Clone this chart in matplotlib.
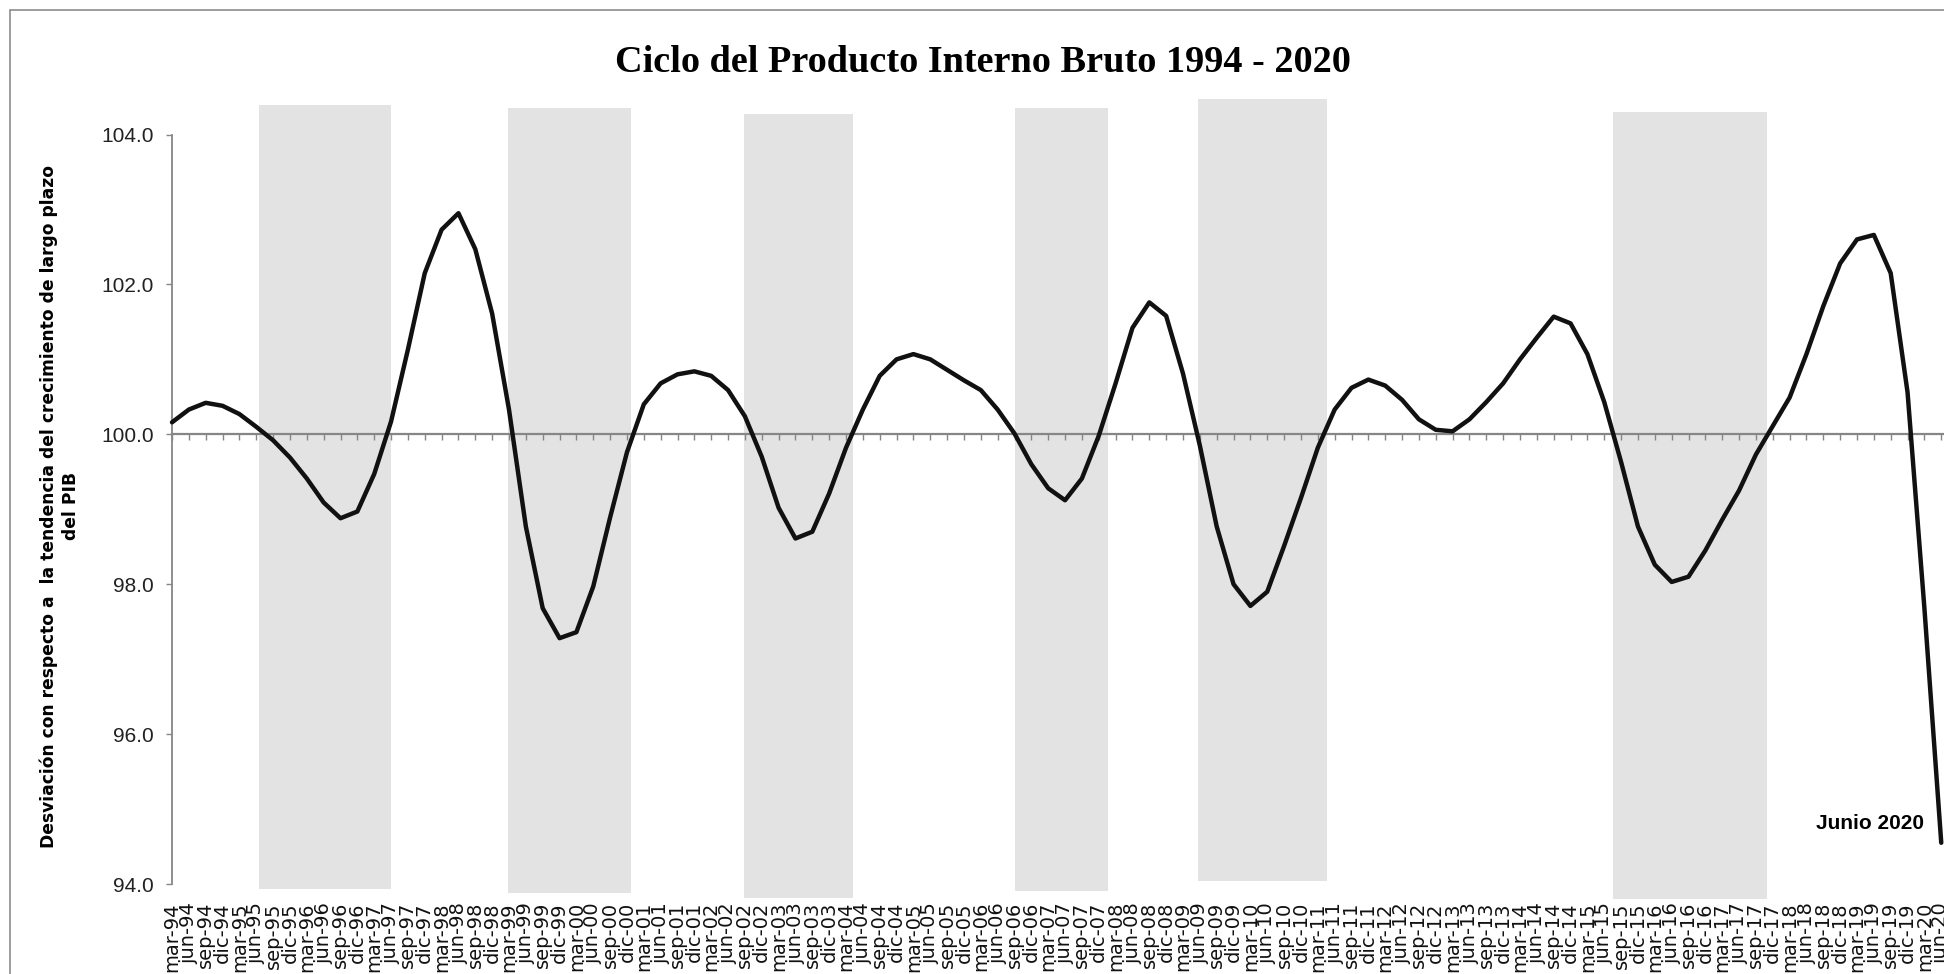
import matplotlib
matplotlib.use("Agg")
import matplotlib.pyplot as plt
from matplotlib.patches import Rectangle

# quarterly labels mar-94 .. jun-20
months = ["mar", "jun", "sep", "dic"]
labels = [f"{m}-{y % 100:02d}" for y in range(1994, 2021) for m in months][:106]

ciclo = [
    100.16, 100.33, 100.42, 100.38, 100.27, 100.10, 99.92, 99.69, 99.41, 99.09,
    98.88, 98.97, 99.47, 100.17, 101.13, 102.15, 102.73, 102.95, 102.47, 101.61,
    100.33, 98.77, 97.68, 97.28, 97.36, 97.97, 98.89, 99.76, 100.40, 100.68,
    100.80, 100.84, 100.78, 100.59, 100.24, 99.70, 99.02, 98.61, 98.70, 99.21,
    99.82, 100.33, 100.78, 101.00, 101.07, 101.00, 100.86, 100.72, 100.59, 100.33,
    100.01, 99.60, 99.28, 99.12, 99.41, 99.98, 100.68, 101.42, 101.76, 101.58,
    100.81, 99.85, 98.77, 98.00, 97.71, 97.90, 98.51, 99.15, 99.82, 100.33,
    100.62, 100.73, 100.65, 100.46, 100.20, 100.06, 100.04, 100.20, 100.43, 100.68,
    101.00, 101.29, 101.57, 101.48, 101.07, 100.43, 99.63, 98.77, 98.26, 98.03,
    98.10, 98.45, 98.86, 99.25, 99.73, 100.11, 100.49, 101.07, 101.71, 102.28,
    102.60, 102.66, 102.15, 100.56, 97.68, 94.55,
]

# shaded periods (in quarter index units) and their vertical extent
shade_start = [5.17, 19.92, 33.96, 50.03, 60.90, 85.54]
shade_end = [13.0, 27.22, 40.40, 55.53, 68.52, 94.68]
shade_top = [104.40, 104.35, 104.27, 104.36, 104.48, 104.30]
shade_bottom = [93.93, 93.88, 93.81, 93.91, 94.04, 93.80]

yticks = [94, 96, 98, 100, 102, 104]

W, H = 1944, 974
fig = plt.figure(figsize=(W / 100, H / 100), dpi=100)
ax = fig.add_axes([172 / W, (H - 884) / H, (W - 172) / W, (884 - 134.5) / H])

gray = "#868686"
x = list(range(len(ciclo)))

ax.bar(shade_start, [t - b for t, b in zip(shade_top, shade_bottom)],
       width=[e - s for s, e in zip(shade_start, shade_end)],
       bottom=shade_bottom, align="edge", color="#e3e3e3", linewidth=0,
       clip_on=False, zorder=1)

ax.plot(x, ciclo, color="#111111", lw=3.2, solid_joinstyle="round",
        solid_capstyle="round", clip_on=False, zorder=4)

ax.set_xlim(0, (W - 172) / 16.85)
ax.set_ylim(94, 104)

for s in ["top", "right"]:
    ax.spines[s].set_visible(False)
ax.spines["left"].set_color(gray)
ax.spines["left"].set_linewidth(1.3)
ax.spines["bottom"].set_position(("data", 100))
ax.spines["bottom"].set_color(gray)
ax.spines["bottom"].set_linewidth(1.6)
ax.spines["bottom"].set_zorder(3)

ax.set_xticks(x)
ax.tick_params(axis="x", length=4, width=1, color=gray, direction="out",
               labelbottom=False)
ax.set_yticks(yticks)
ax.set_yticklabels([f"{v:.1f}" for v in yticks], fontsize=15,
                   family="Liberation Sans", color="#222222")
ax.tick_params(axis="y", length=4, width=1, color=gray, pad=9)

sec = ax.secondary_xaxis("bottom")
sec.set_xticks(x)
sec.set_xticklabels(labels, rotation=90, fontsize=14, family="DejaVu Sans",
                    color="#111111")
sec.tick_params(length=0, pad=13)
sec.spines["bottom"].set_visible(False)

ax.text(104.0, 94.73, "Junio 2020", ha="right", va="baseline", fontsize=15,
        fontweight="bold", family="Liberation Sans")

fig.text(983 / W, 1 - 72 / H, "Ciclo del Producto Interno Bruto 1994 - 2020",
         ha="center", va="baseline", fontsize=27.5, fontweight="bold",
         family="Liberation Serif")

fig.text(60 / W, 1 - 506 / H,
         "Desviación con respecto a  la tendencia del crecimiento de largo plazo\ndel PIB",
         rotation=90, ha="center", va="center", multialignment="center",
         fontsize=12.3, fontweight="bold", family="DejaVu Sans",
         linespacing=1.3)

# outer chart frame (right and bottom edges fall outside the image)
fig.patches.append(Rectangle((10 / W, -0.1), 1.2, 1 - 10 / H + 0.1,
                             transform=fig.transFigure, fill=False,
                             edgecolor="#8c8c8c", linewidth=1.2))

fig.savefig("out.png", dpi=100)
